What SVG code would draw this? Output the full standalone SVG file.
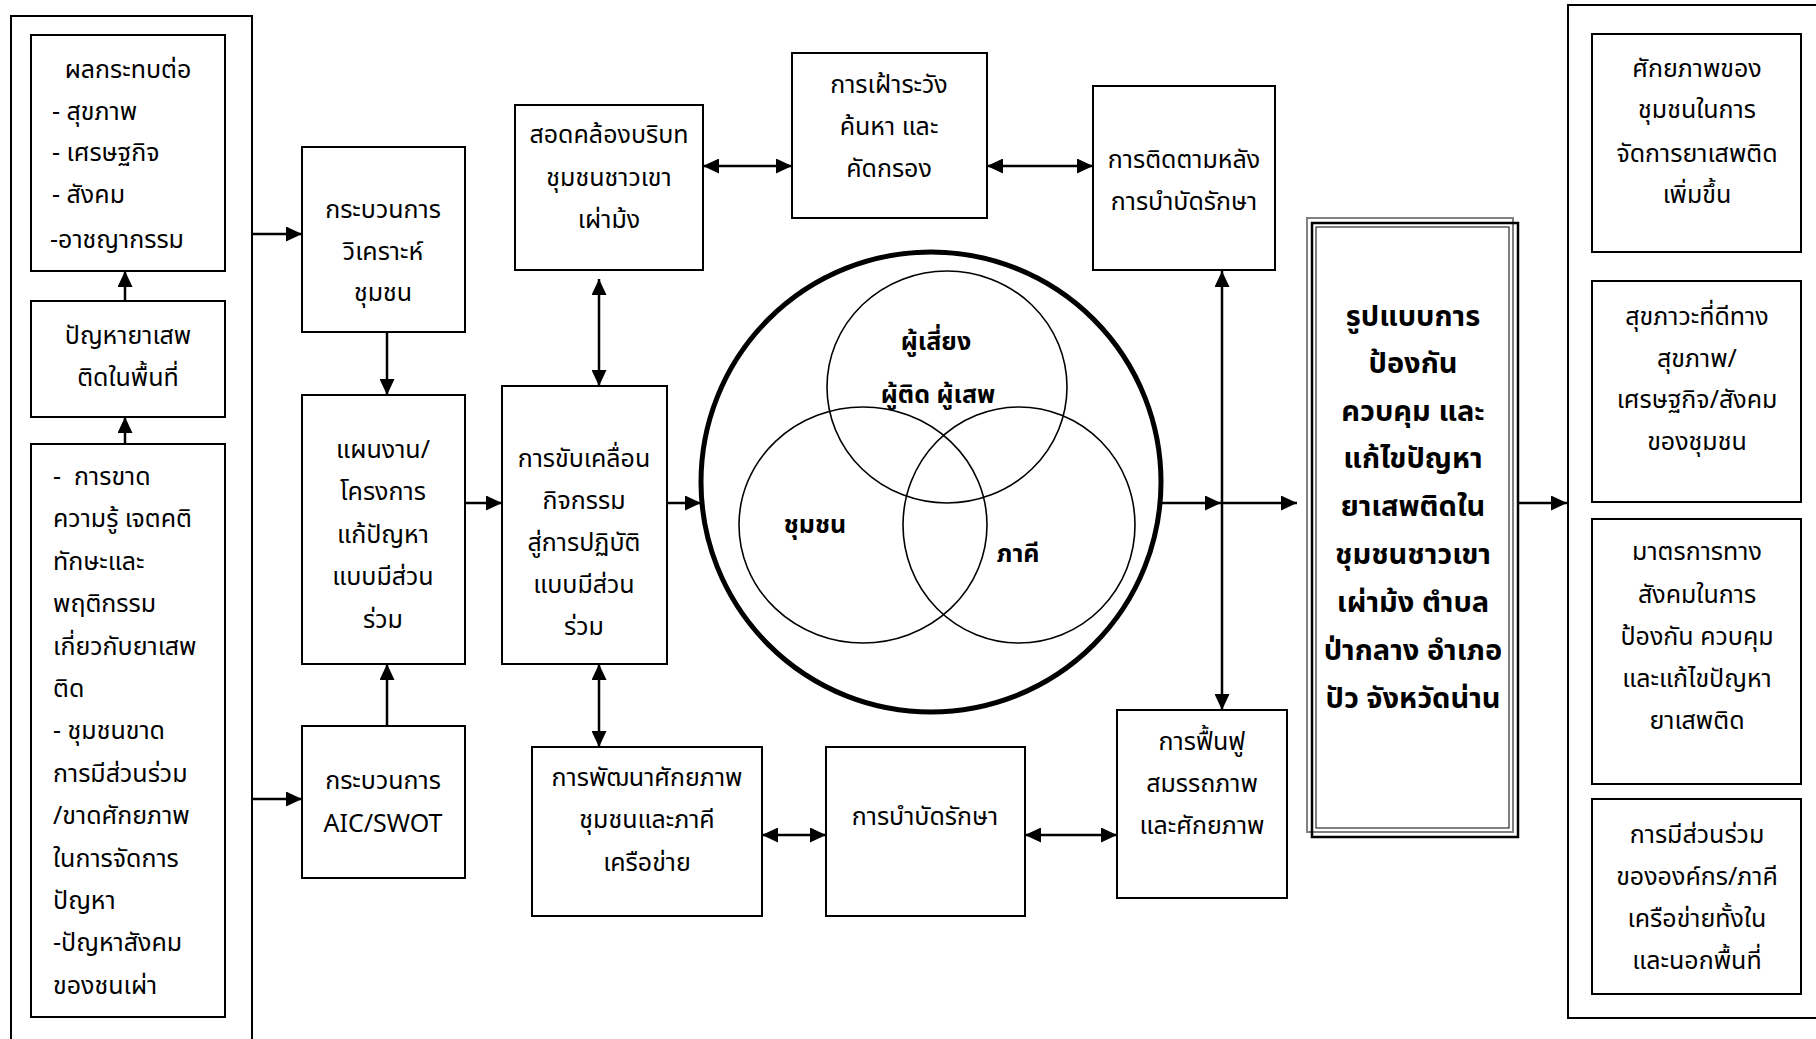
<svg xmlns="http://www.w3.org/2000/svg" width="1816" height="1039" viewBox="0 0 1816 1039">
<style>
.bg{fill:#fff}
.box{fill:#fff;stroke:#000;stroke-width:2}
.frame{fill:none;stroke:#000;stroke-width:2}
.t{font-family:"Noto Sans Thai","Noto Sans Thai UI","Loma","Garuda","Tlwg Typo","Noto Sans","DejaVu Sans",sans-serif;font-size:25px;fill:#000}
.c{text-anchor:middle}
.b{font-weight:bold}
.vl{font-size:25px}
.ml{font-size:29px}
.conn line{stroke:#000;stroke-width:2.5;fill:none}
.venn{fill:none;stroke:#000;stroke-width:1.6}
</style>
<defs>
<marker id="ah" markerUnits="userSpaceOnUse" markerWidth="16" markerHeight="15" viewBox="0 0 16 15" refX="16" refY="7.5" orient="auto-start-reverse">
<path d="M0,0 L16,7.5 L0,15 z" fill="#000"/>
</marker>
</defs>
<rect class="bg" x="0" y="0" width="1816" height="1039"/>

<g id="left-frame"><path class="frame" d="M11,1045 V16 H252 V1045"/></g>
<g id="right-frame"><path class="frame" d="M1822,5 H1568 V1018 H1822"/></g>

<g id="n-impact">
<rect class="box" x="31" y="35" width="194" height="236"/>
<text class="t c" x="128" y="78">ผลกระทบต่อ</text>
<text class="t" x="52" y="120">- สุขภาพ</text>
<text class="t" x="52" y="161">- เศรษฐกิจ</text>
<text class="t" x="52" y="203">- สังคม</text>
<text class="t" x="50" y="248">-อาชญากรรม</text>
</g>

<g id="n-problem">
<rect class="box" x="31" y="301" width="194" height="116"/>
<text class="t c" x="128" y="344">ปัญหายาเสพ</text>
<text class="t c" x="128" y="386">ติดในพื้นที่</text>
</g>

<g id="n-causes">
<rect class="box" x="31" y="444" width="194" height="573"/>
<text class="t" x="53" y="485" xml:space="preserve">-  การขาด</text>
<text class="t" x="53" y="527">ความรู้ เจตคติ</text>
<text class="t" x="53" y="570">ทักษะและ</text>
<text class="t" x="53" y="612">พฤติกรรม</text>
<text class="t" x="53" y="655">เกี่ยวกับยาเสพ</text>
<text class="t" x="53" y="697">ติด</text>
<text class="t" x="53" y="739">- ชุมชนขาด</text>
<text class="t" x="53" y="782">การมีส่วนร่วม</text>
<text class="t" x="53" y="824">/ขาดศักยภาพ</text>
<text class="t" x="53" y="867">ในการจัดการ</text>
<text class="t" x="53" y="909">ปัญหา</text>
<text class="t" x="53" y="951">-ปัญหาสังคม</text>
<text class="t" x="53" y="994">ของชนเผ่า</text>
</g>

<g id="n-analysis">
<rect class="box" x="302" y="147" width="163" height="185"/>
<text class="t c" x="383" y="218">กระบวนการ</text>
<text class="t c" x="383" y="260">วิเคราะห์</text>
<text class="t c" x="383" y="301">ชุมชน</text>
</g>

<g id="n-plan">
<rect class="box" x="302" y="395" width="163" height="269"/>
<text class="t c" x="383" y="458">แผนงาน/</text>
<text class="t c" x="383" y="500">โครงการ</text>
<text class="t c" x="383" y="543">แก้ปัญหา</text>
<text class="t c" x="383" y="585">แบบมีส่วน</text>
<text class="t c" x="383" y="628">ร่วม</text>
</g>

<g id="n-aic">
<rect class="box" x="302" y="726" width="163" height="152"/>
<text class="t c" x="383" y="789">กระบวนการ</text>
<text class="t c" x="383" y="832">AIC/SWOT</text>
</g>

<g id="n-drive">
<rect class="box" x="502" y="386" width="165" height="278"/>
<text class="t c" x="584" y="467">การขับเคลื่อน</text>
<text class="t c" x="584" y="509">กิจกรรม</text>
<text class="t c" x="584" y="551">สู่การปฏิบัติ</text>
<text class="t c" x="584" y="593">แบบมีส่วน</text>
<text class="t c" x="584" y="635">ร่วม</text>
</g>

<g id="n-context">
<rect class="box" x="515" y="105" width="188" height="165"/>
<text class="t c" x="609" y="143">สอดคล้องบริบท</text>
<text class="t c" x="609" y="186">ชุมชนชาวเขา</text>
<text class="t c" x="609" y="228">เผ่าม้ง</text>
</g>

<g id="n-surveil">
<rect class="box" x="792" y="53" width="195" height="165"/>
<text class="t c" x="889" y="93">การเฝ้าระวัง</text>
<text class="t c" x="889" y="135">ค้นหา และ</text>
<text class="t c" x="889" y="177">คัดกรอง</text>
</g>

<g id="n-follow">
<rect class="box" x="1093" y="86" width="182" height="184"/>
<text class="t c" x="1184" y="168">การติดตามหลัง</text>
<text class="t c" x="1184" y="210">การบำบัดรักษา</text>
</g>

<g id="n-develop">
<rect class="box" x="532" y="747" width="230" height="169"/>
<text class="t c" x="647" y="786">การพัฒนาศักยภาพ</text>
<text class="t c" x="647" y="828">ชุมชนและภาคี</text>
<text class="t c" x="647" y="871">เครือข่าย</text>
</g>

<g id="n-treat">
<rect class="box" x="826" y="747" width="199" height="169"/>
<text class="t c" x="925" y="825">การบำบัดรักษา</text>
</g>

<g id="n-rehab">
<rect class="box" x="1117" y="710" width="170" height="188"/>
<text class="t c" x="1202" y="750">การฟื้นฟู</text>
<text class="t c" x="1202" y="792">สมรรถภาพ</text>
<text class="t c" x="1202" y="834">และศักยภาพ</text>
</g>

<g id="n-venn">
<circle cx="931" cy="482" r="230" fill="#fff" stroke="#000" stroke-width="5"/>
<ellipse class="venn" cx="947" cy="387" rx="120" ry="116"/>
<ellipse class="venn" cx="863" cy="525" rx="124" ry="118"/>
<ellipse class="venn" cx="1019" cy="525" rx="116" ry="118"/>
<text class="t c b vl" x="936" y="350">ผู้เสี่ยง</text>
<text class="t c b vl" x="938" y="403">ผู้ติด ผู้เสพ</text>
<text class="t c b vl" x="815" y="533">ชุมชน</text>
<text class="t c b vl" x="1018" y="562">ภาคี</text>
</g>

<g id="n-model">
<rect x="1307" y="218" width="206" height="614" fill="#fff" stroke="#808080" stroke-width="2"/>
<rect x="1312" y="223" width="206" height="614" fill="none" stroke="#000" stroke-width="2.5"/>
<rect x="1316" y="227" width="193" height="601" fill="none" stroke="#000" stroke-width="1"/>
<text class="t c b ml" x="1413" y="326">รูปแบบการ</text>
<text class="t c b ml" x="1413" y="373">ป้องกัน</text>
<text class="t c b ml" x="1413" y="421">ควบคุม และ</text>
<text class="t c b ml" x="1413" y="468">แก้ไขปัญหา</text>
<text class="t c b ml" x="1413" y="516">ยาเสพติดใน</text>
<text class="t c b ml" x="1413" y="564">ชุมชนชาวเขา</text>
<text class="t c b ml" x="1413" y="612">เผ่าม้ง ตำบล</text>
<text class="t c b ml" x="1413" y="660">ป่ากลาง อำเภอ</text>
<text class="t c b ml" x="1413" y="708">ปัว จังหวัดน่าน</text>
</g>

<g id="n-out1">
<rect class="box" x="1592" y="34" width="209" height="218"/>
<text class="t c" x="1697" y="77">ศักยภาพของ</text>
<text class="t c" x="1697" y="118">ชุมชนในการ</text>
<text class="t c" x="1697" y="162">จัดการยาเสพติด</text>
<text class="t c" x="1697" y="203">เพิ่มขึ้น</text>
</g>
<g id="n-out2">
<rect class="box" x="1592" y="281" width="209" height="221"/>
<text class="t c" x="1697" y="325">สุขภาวะที่ดีทาง</text>
<text class="t c" x="1697" y="367">สุขภาพ/</text>
<text class="t c" x="1697" y="408">เศรษฐกิจ/สังคม</text>
<text class="t c" x="1697" y="450">ของชุมชน</text>
</g>
<g id="n-out3">
<rect class="box" x="1592" y="519" width="209" height="265"/>
<text class="t c" x="1697" y="560">มาตรการทาง</text>
<text class="t c" x="1697" y="603">สังคมในการ</text>
<text class="t c" x="1697" y="645">ป้องกัน ควบคุม</text>
<text class="t c" x="1697" y="687">และแก้ไขปัญหา</text>
<text class="t c" x="1697" y="729">ยาเสพติด</text>
</g>
<g id="n-out4">
<rect class="box" x="1592" y="799" width="209" height="195"/>
<text class="t c" x="1697" y="843">การมีส่วนร่วม</text>
<text class="t c" x="1697" y="885">ขององค์กร/ภาคี</text>
<text class="t c" x="1697" y="927">เครือข่ายทั้งใน</text>
<text class="t c" x="1697" y="969">และนอกพื้นที่</text>
</g>

<g id="connectors" class="conn">
<line x1="252" y1="234" x2="302" y2="234" marker-end="url(#ah)"/>
<line x1="252" y1="799" x2="302" y2="799" marker-end="url(#ah)"/>
<line x1="125" y1="301" x2="125" y2="271" marker-end="url(#ah)"/>
<line x1="125" y1="444" x2="125" y2="417" marker-end="url(#ah)"/>
<line x1="387" y1="332" x2="387" y2="395" marker-end="url(#ah)"/>
<line x1="387" y1="726" x2="387" y2="664" marker-end="url(#ah)"/>
<line x1="465" y1="503" x2="502" y2="503" marker-end="url(#ah)"/>
<line x1="667" y1="503" x2="701" y2="503" marker-end="url(#ah)"/>
<line x1="599" y1="279" x2="599" y2="386" marker-start="url(#ah)" marker-end="url(#ah)"/>
<line x1="599" y1="664" x2="599" y2="747" marker-start="url(#ah)" marker-end="url(#ah)"/>
<line x1="703" y1="166" x2="792" y2="166" marker-start="url(#ah)" marker-end="url(#ah)"/>
<line x1="987" y1="166" x2="1093" y2="166" marker-start="url(#ah)" marker-end="url(#ah)"/>
<line x1="762" y1="835" x2="826" y2="835" marker-start="url(#ah)" marker-end="url(#ah)"/>
<line x1="1025" y1="835" x2="1117" y2="835" marker-start="url(#ah)" marker-end="url(#ah)"/>
<line x1="1222" y1="271" x2="1222" y2="710" marker-start="url(#ah)" marker-end="url(#ah)"/>
<line x1="1161" y1="503" x2="1221" y2="503" marker-end="url(#ah)"/>
<line x1="1222" y1="503" x2="1297" y2="503" marker-end="url(#ah)"/>
<line x1="1518" y1="503" x2="1567" y2="503" marker-end="url(#ah)"/>
</g>
</svg>
